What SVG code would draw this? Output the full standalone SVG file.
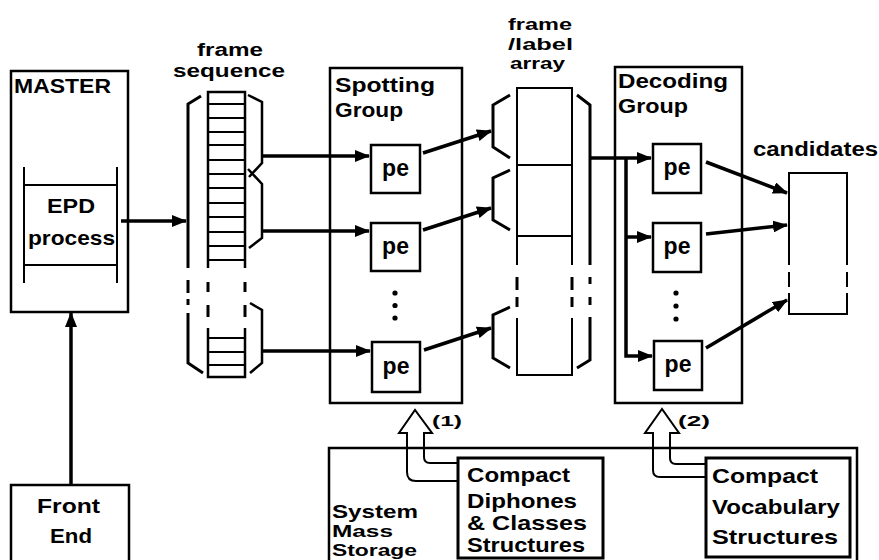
<svg xmlns="http://www.w3.org/2000/svg" width="879" height="560" viewBox="0 0 879 560">
<defs>
<marker id="ah" markerUnits="userSpaceOnUse" markerWidth="16" markerHeight="12" refX="14" refY="6" orient="auto">
<path d="M0,0 L15,6 L0,12 z" fill="#000"/>
</marker>
<style>
.b{fill:none;stroke:#000;stroke-width:2.5}
.t{fill:none;stroke:#000;stroke-width:2}
.k{fill:none;stroke:#000;stroke-width:3}
.c{fill:none;stroke:#000;stroke-width:3.5;marker-end:url(#ah)}
text{font-family:"Liberation Sans",Arial,Helvetica,sans-serif;font-weight:bold;fill:#000}
.f21{font-size:21px}
.f20{font-size:20px}
.f18{font-size:18px}
.f17{font-size:17px}
.f16{font-size:16px}
.pe{font-size:23px;text-anchor:middle}
.sm{font-size:15px}
</style>
</defs>
<rect width="879" height="560" fill="#fff"/>

<g id="master">
<rect class="b" x="11" y="71" width="117" height="241"/>
<text class="f21" x="14" y="93" textLength="97" lengthAdjust="spacingAndGlyphs">MASTER</text>
</g>
<g id="epd">
<path class="t" d="M24,167 V283 M117,167 V283 M24,185 H117 M24,265 H117"/>
<text class="f21" x="47" y="213" textLength="48" lengthAdjust="spacingAndGlyphs">EPD</text>
<text class="f21" x="28" y="245" textLength="87" lengthAdjust="spacingAndGlyphs">process</text>
</g>
<g id="frontend">
<rect class="b" x="11" y="485" width="118" height="90"/>
<text class="f21" x="37" y="513" textLength="63" lengthAdjust="spacingAndGlyphs">Front</text>
<text class="f21" x="50" y="543" textLength="42" lengthAdjust="spacingAndGlyphs">End</text>
</g>

<g id="frame-sequence">
<text class="f18" x="197" y="56" textLength="66" lengthAdjust="spacingAndGlyphs">frame</text>
<text class="f18" x="173" y="77" textLength="112" lengthAdjust="spacingAndGlyphs">sequence</text>
<path class="b" d="M208,268 V92 H245 V268"/>
<path class="t" d="M208,104 H245 M208,118 H245 M208,132 H245 M208,145 H245 M208,160 H245 M208,174 H245 M208,188 H245 M208,203 H245 M208,217 H245 M208,232 H245 M208,246 H245 M208,260 H245"/>
<path class="k" d="M208,282 V292 M208,305 V317 M245,282 V292 M245,305 V317 M188,280 V293 M188,299 V305"/>
<path class="b" d="M208,328 V377 H245 V328"/>
<path class="t" d="M208,338 H245 M208,352 H245 M208,365 H245"/>
<path class="k" d="M201,96 L188,104 V268"/>
<path class="k" d="M188,313 V363 L203,373"/>
<path class="b" d="M248,95 L262,102 V163 L249,177"/>
<path class="b" d="M248,169 L262,184 V238 L249,248"/>
<path class="b" d="M250,303 L262,310 V363 L250,373"/>
</g>

<g id="spotting-group">
<rect class="b" x="330" y="68" width="132" height="335"/>
<text class="f21" x="335" y="92" textLength="100" lengthAdjust="spacingAndGlyphs">Spotting</text>
<text class="f21" x="335" y="117" textLength="68" lengthAdjust="spacingAndGlyphs">Group</text>
<circle cx="395" cy="293" r="2.6"/>
<circle cx="395" cy="305.5" r="2.6"/>
<circle cx="395" cy="318" r="2.6"/>
</g>
<g id="spot-pe1"><rect class="b" x="371" y="145" width="49" height="48"/><text class="pe" x="395.5" y="176">pe</text></g>
<g id="spot-pe2"><rect class="b" x="371" y="223" width="49" height="48"/><text class="pe" x="395.5" y="254">pe</text></g>
<g id="spot-pe3"><rect class="b" x="372" y="342" width="48" height="50"/><text class="pe" x="396" y="374">pe</text></g>

<g id="frame-label-array">
<text class="f17" x="508" y="30" textLength="64" lengthAdjust="spacingAndGlyphs">frame</text>
<text class="f17" x="508" y="50" textLength="65" lengthAdjust="spacingAndGlyphs">/label</text>
<text class="f17" x="510" y="69" textLength="55" lengthAdjust="spacingAndGlyphs">array</text>
<path class="t" d="M517,265 V88 H572 V265 M517,165 H572 M517,236 H572"/>
<path class="k" d="M517,277 V290 M517,297 V307 M572,277 V290 M572,297 V307 M590,277 V284 M590,297 V305"/>
<path class="t" d="M517,318 V375 H572 V318"/>
<path class="k" d="M510,95 L493,105 V147 L510,158 M510,170 L493,178 V220 L510,230 M510,307 L493,315 V358 L510,368"/>
<path class="k" d="M577,95 L590,105 V265 M590,317 V360 L577,368"/>
</g>

<g id="decoding-group">
<rect class="b" x="615" y="67" width="127" height="336"/>
<text class="f21" x="618" y="88" textLength="110" lengthAdjust="spacingAndGlyphs">Decoding</text>
<text class="f21" x="618" y="113" textLength="70" lengthAdjust="spacingAndGlyphs">Group</text>
<circle cx="676" cy="293" r="2.6"/>
<circle cx="676" cy="306" r="2.6"/>
<circle cx="676" cy="319" r="2.6"/>
</g>
<g id="dec-pe1"><rect class="b" x="653" y="144" width="48" height="49"/><text class="pe" x="677" y="175">pe</text></g>
<g id="dec-pe2"><rect class="b" x="653" y="223" width="48" height="49"/><text class="pe" x="677" y="254">pe</text></g>
<g id="dec-pe3"><rect class="b" x="654" y="341" width="48" height="49"/><text class="pe" x="678" y="372">pe</text></g>

<g id="candidates">
<text class="f20" x="753" y="156" textLength="125" lengthAdjust="spacingAndGlyphs">candidates</text>
<path class="t" d="M789,265 V173 H847 V265 M789,272 V287 M847,272 V287 M789,293 V314 H847 V293"/>
</g>

<g id="system-mass-storage">
<rect class="b" x="329" y="448" width="528" height="130"/>
<text class="f18" x="332" y="518" textLength="86" lengthAdjust="spacingAndGlyphs">System</text>
<text class="f17" x="332" y="537" textLength="61" lengthAdjust="spacingAndGlyphs">Mass</text>
<text class="f16" x="332" y="556" textLength="85" lengthAdjust="spacingAndGlyphs">Storage</text>
</g>
<g id="compact-diphones">
<rect class="k" x="458" y="458" width="145" height="100"/>
<text class="f21" x="467" y="482" textLength="103" lengthAdjust="spacingAndGlyphs">Compact</text>
<text class="f21" x="467" y="508" textLength="110" lengthAdjust="spacingAndGlyphs">Diphones</text>
<text class="f21" x="467" y="530" textLength="120" lengthAdjust="spacingAndGlyphs">&amp; Classes</text>
<text class="f21" x="467" y="552" textLength="118" lengthAdjust="spacingAndGlyphs">Structures</text>
</g>
<g id="compact-vocabulary">
<rect class="k" x="706" y="458" width="144" height="99"/>
<text class="f21" x="712" y="483" textLength="106" lengthAdjust="spacingAndGlyphs">Compact</text>
<text class="f21" x="712" y="514" textLength="128" lengthAdjust="spacingAndGlyphs">Vocabulary</text>
<text class="f21" x="712" y="544" textLength="126" lengthAdjust="spacingAndGlyphs">Structures</text>
</g>

<g id="connectors">
<line class="c" x1="121" y1="221" x2="186" y2="221"/>
<line class="c" x1="71" y1="485" x2="71" y2="313"/>
<line class="c" x1="262" y1="156" x2="369" y2="156"/>
<line class="c" x1="262" y1="231" x2="369" y2="231"/>
<line class="c" x1="262" y1="351" x2="370" y2="351"/>
<line class="c" x1="423" y1="153" x2="491" y2="131"/>
<line class="c" x1="423" y1="230" x2="491" y2="208"/>
<line class="c" x1="424" y1="350" x2="491" y2="328"/>
<line class="c" x1="590" y1="158" x2="651" y2="158"/>
<polyline class="c" points="626,158 626,356 652,356"/>
<line class="c" x1="626" y1="237" x2="651" y2="237"/>
<line class="c" x1="706" y1="162" x2="787" y2="193"/>
<line class="c" x1="706" y1="234" x2="787" y2="225"/>
<line class="c" x1="706" y1="348" x2="787" y2="300"/>
<path class="t" d="M458,463 L430,463 Q424,463 424,457 L424,433 L432,433 L415,410 L399,433 L407,433 L407,472 Q407,481 416,481 L458,481"/>
<text class="sm" x="432" y="426" textLength="30" lengthAdjust="spacingAndGlyphs">(1)</text>
<path class="t" d="M706,464 L676,464 Q670,464 670,458 L670,433 L679,433 L662,409 L645,433 L653,433 L653,470 Q653,477 660,477 L706,477"/>
<text class="sm" x="678" y="426" textLength="32" lengthAdjust="spacingAndGlyphs">(2)</text>
</g>
</svg>
